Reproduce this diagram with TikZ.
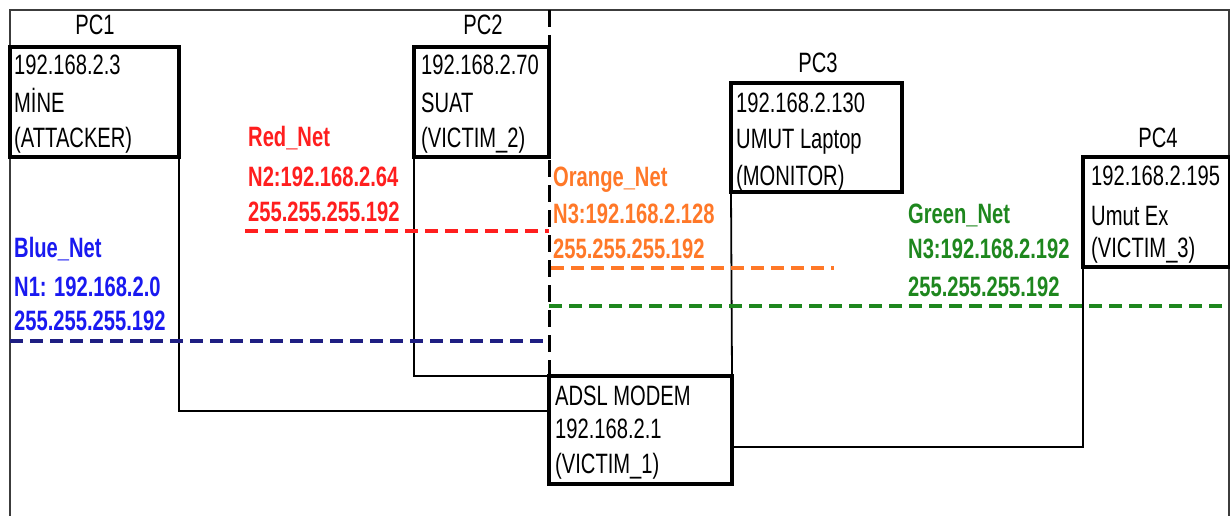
\documentclass[tikz,border=0pt]{standalone}
\usepackage{fontspec}
\newfontfamily\arl[FakeStretch=0.72]{Liberation Sans}
\definecolor{bluetxt}{RGB}{25,25,240}
\definecolor{blueline}{RGB}{30,30,130}
\definecolor{redtxt}{RGB}{255,30,30}
\definecolor{orangetxt}{RGB}{255,120,40}
\definecolor{greentxt}{RGB}{30,135,30}
\definecolor{framegray}{RGB}{60,60,60}
\tikzset{
  pcbox/.style={draw=black, line width=3.6pt, inner sep=0pt, outer sep=0pt, anchor=north west},
  txt/.style={anchor=base west, inner sep=0pt, font=\arl\fontsize{28}{34}\selectfont},
  ctxt/.style={anchor=base, inner sep=0pt, font=\arl\fontsize{28}{34}\selectfont},
  ntxt/.style={anchor=base west, inner sep=0pt, font=\arl\bfseries\fontsize{28}{34}\selectfont},
  conn/.style={draw=black, line width=1.8pt},
  netline/.style={line width=3.8pt, dash pattern=on 13pt off 7pt},
  vdashed/.style={draw=black, line width=3pt, dash pattern=on 17pt off 8pt},
  frameline/.style={draw=framegray, line width=2.2pt}
}
\begin{document}
\begin{tikzpicture}[x=1pt,y=-1pt]
\useasboundingbox (0,0) rectangle (1230,516);
% frame
\draw[frameline] (10,516) -- (10,10) -- (1229,10) -- (1229,516);
% boxes
\node[pcbox, minimum width=169pt, minimum height=110pt] (pc1) at (10,47) {};
\node[pcbox, minimum width=135pt, minimum height=110pt] (pc2) at (414,47) {};
\node[pcbox, minimum width=171pt, minimum height=109pt] (pc3) at (731,83) {};
\node[pcbox, minimum width=147pt, minimum height=110pt] (pc4) at (1083,157) {};
\node[pcbox, minimum width=183pt, minimum height=108pt] (modem) at (549,376) {};
% titles
\node[ctxt] (t1) at (95,35) {PC1};
\node[ctxt] (t2) at (483,35) {PC2};
\node[ctxt] (t3) at (818,73) {PC3};
\node[ctxt] (t4) at (1158,147) {PC4};
% box texts
\node[txt] (p1a) at (14,75) {192.168.2.3};
\node[txt] (p1b) at (14,113) {MİNE};
\node[txt] (p1c) at (14,147) {(ATTACKER)};
\node[txt] (p2a) at (421,75) {192.168.2.70};
\node[txt] (p2b) at (421,113) {SUAT};
\node[txt] (p2c) at (421,147) {(VICTIM\_2)};
\node[txt] (p3a) at (736,113) {192.168.2.130};
\node[txt] (p3b) at (736,148) {UMUT Laptop};
\node[txt] (p3c) at (736,185) {(MONITOR)};
\node[txt] (p4a) at (1091,185) {192.168.2.195};
\node[txt] (p4b) at (1091,225) {Umut Ex};
\node[txt] (p4c) at (1091,257) {(VICTIM\_3)};
\node[txt] (m1) at (555,405) {ADSL MODEM};
\node[txt] (m2) at (555,438) {192.168.2.1};
\node[txt] (m3) at (555,473) {(VICTIM\_1)};
% net labels
\node[ntxt, text=bluetxt] (b1) at (14,257) {Blue\_Net};
\node[ntxt, text=bluetxt] (b2) at (14,296) {N1: 192.168.2.0};
\node[ntxt, text=bluetxt] (b3) at (14,330) {255.255.255.192};
\node[ntxt, text=redtxt] (r1) at (248,146) {Red\_Net};
\node[ntxt, text=redtxt] (r2) at (248,186) {N2:192.168.2.64};
\node[ntxt, text=redtxt] (r3) at (248,221) {255.255.255.192};
\node[ntxt, text=orangetxt] (o1) at (553,186) {Orange\_Net};
\node[ntxt, text=orangetxt] (o2) at (553,223) {N3:192.168.2.128};
\node[ntxt, text=orangetxt] (o3) at (553,258) {255.255.255.192};
\node[ntxt, text=greentxt] (g1) at (908,223) {Green\_Net};
\node[ntxt, text=greentxt] (g2) at (908,258) {N3:192.168.2.192};
\node[ntxt, text=greentxt] (g3) at (908,296) {255.255.255.192};
% connectors
\draw[conn] (pc1.south east) |- ([yshift=-35pt]modem.north west);
\draw[conn] (pc2.south west) |- (modem.north west);
\draw[conn] (pc3.south west) -- (modem.north east);
\draw[conn] (pc4.south west) |- ([yshift=-71pt]modem.north east);
% network dashed lines
\coordinate (bl0) at (10,341);
\coordinate (bl1) at (549,341);
\coordinate (rl0) at (245,231);
\coordinate (rl1) at (549,231);
\coordinate (ol0) at (551,268);
\coordinate (ol1) at (834,268);
\coordinate (gl0) at (549,306);
\coordinate (gl1) at (1229,306);
\draw[netline, draw=blueline] (bl0) -- (bl1);
\draw[netline, draw=redtxt] (rl0) -- (rl1);
\draw[netline, draw=orangetxt] (ol0) -- (ol1);
\draw[netline, draw=greentxt] (gl0) -- (gl1);
% vertical dashed separator
\coordinate (vtop) at (549,10);
\draw[vdashed] (vtop) -- (modem.north west);
\end{tikzpicture}
\end{document}
